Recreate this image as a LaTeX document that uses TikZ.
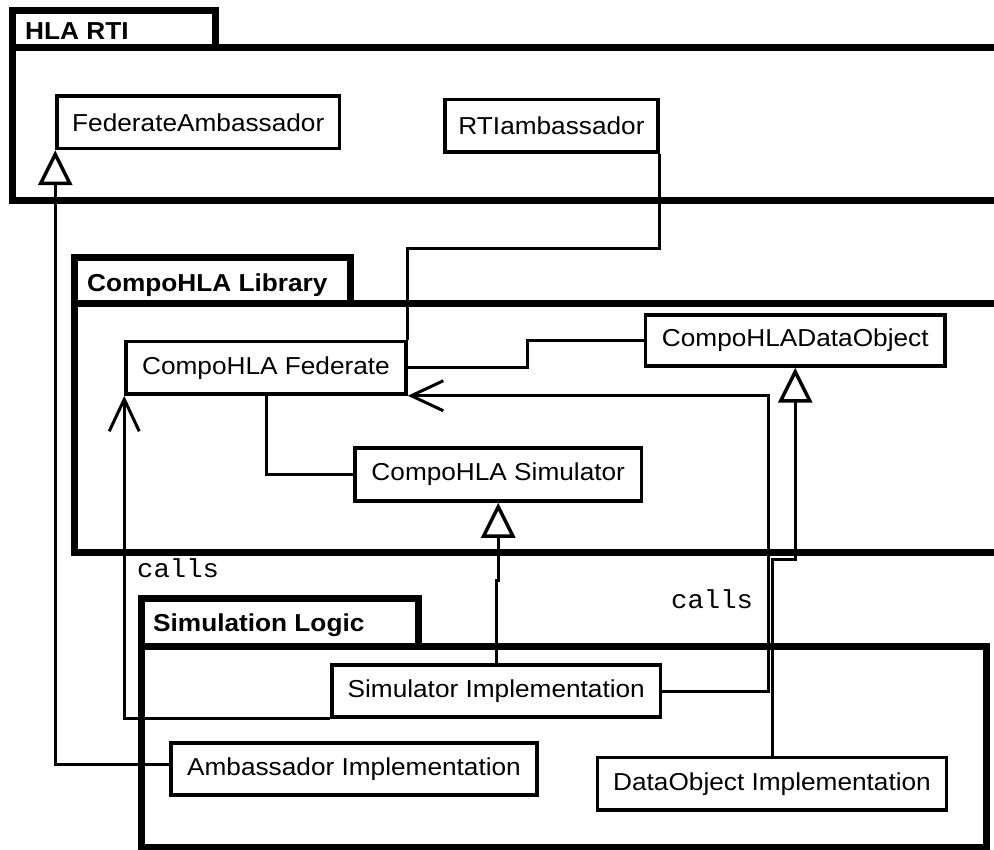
\documentclass[tikz,border=0pt]{standalone}
\usepackage{fontspec}
\setmainfont[FakeStretch=1.07]{Liberation Sans}
\setmonofont[FakeStretch=1.05]{Liberation Mono}
\usetikzlibrary{arrows.meta}

\begin{document}
\begin{tikzpicture}[
    x=1pt, y=-1pt,
    font=\fontsize{24.5}{29}\selectfont,
    block/.style={draw, line width=3.5pt, rectangle, fill=white, align=center, inner sep=0pt},
    pkg/.style={draw, line width=7pt},
    pkgname/.style={anchor=base west, inner sep=0pt, font=\fontsize{24.5}{29}\selectfont\bfseries},
    link/.style={draw, line width=3pt},
    inherit/.style={link, -{Triangle[open, length=35pt, width=34pt, line width=3.5pt]}},
    calls/.style={link, -{Straight Barb[length=32pt, width=30pt]}},
    callsname/.style={anchor=base west, inner sep=0pt, font=\fontsize{26}{30}\selectfont\ttfamily}
]
\clip (0,0) rectangle (994,850);

% packages
\draw[pkg] (12,11) rectangle (215,48);
\draw[pkg] (12,48) rectangle (1010,201);
\node[pkgname] (rtiname) at (25,40) {HLA RTI};

\draw[pkg] (74,258) rectangle (350.5,304);
\draw[pkg] (74,304) rectangle (1010,552);
\node[pkgname] (libname) at (87,292) {CompoHLA Library};

\draw[pkg] (141,598) rectangle (418,646);
\draw[pkg] (141,646) rectangle (986,847);
\node[pkgname] (logicname) at (153,631) {Simulation Logic};

% HLA RTI
\node[block, minimum width=282.5pt, minimum height=52.5pt] (fedamb) at (198.25,122.25) {FederateAmbassador};
\node[block, minimum width=213pt, minimum height=52.5pt] (rti) at (551.5,125.75) {RTIambassador};

% CompoHLA Library
\node[block, minimum width=280pt, minimum height=52.5pt] (fed) at (266,367.75) {CompoHLA Federate};
\node[block, minimum width=299.5pt, minimum height=51pt] (obj) at (795.25,340.5) {CompoHLADataObject};
\node[block, minimum width=286.5pt, minimum height=53pt] (sim) at (498.25,474.5) {CompoHLA Simulator};

% Simulation Logic
\node[block, minimum width=328.5pt, minimum height=52pt] (simimpl) at (496.25,691) {Simulator Implementation};
\node[block, minimum width=366pt, minimum height=52pt] (ambimpl) at (354,769) {Ambassador Implementation};
\node[block, minimum width=349pt, minimum height=52.5pt] (objimpl) at (772,783.75) {DataObject Implementation};

% connectors
\draw[link] (rti.south east) -- ++(0,95) -| (fed.north east);
\draw[link] (fed.east) -- ++(119.5,0) |- (obj.west);
\draw[link] (fed.south) |- (sim.west);

\draw[inherit] ([yshift=5pt]ambimpl.west) -| (fedamb.south west);
\draw[inherit] (simimpl.north) -- ++(0,-83) -| (sim.south);
\draw[inherit] (objimpl.north) -- ++(0,-196) -| (obj.south);

\draw[calls] (simimpl.south west) -| (fed.south west);
\draw[calls] (simimpl.east) -- ++(106.5,0) |- (fed.south east);

\node[callsname] (callsleft) at (137,577) {calls};
\node[callsname] (callsright) at (671,608) {calls};

\end{tikzpicture}
\end{document}
